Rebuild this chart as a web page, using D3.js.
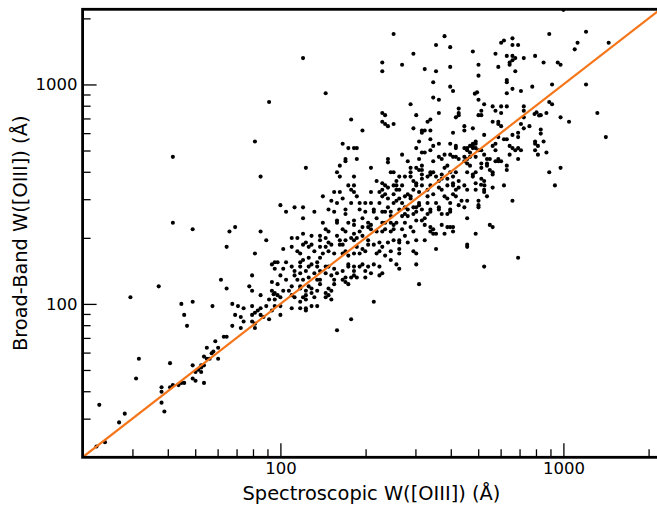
<!DOCTYPE html>
<html>
<head>
<meta charset="utf-8">
<script src="https://cdn.jsdelivr.net/npm/d3@7"></script>
<style>
  body { margin: 0; background: #fff; }
  svg { display: block; font-family: "DejaVu Sans", sans-serif; }
  .axis path.domain { display: none; }
  .axis line { stroke: #000; stroke-width: 1.3; }
  .axis text { font-size: 16.5px; fill: #000; font-family: "DejaVu Sans", sans-serif; }
  .label { font-size: 19.4px; fill: #000; }
</style>
</head>
<body>
<div id="chart"></div>
<script>
// values are log10 of the widths in Angstrom: [spectroscopic, broad-band]
var ptsLow = [[1.65,2.00],[1.69,2.01],[1.76,1.99],[1.66,1.95],[1.67,1.90],[1.36,1.54],[1.50,1.75],[1.49,1.66],
  [1.45,1.50],[1.43,1.46],[1.38,1.37],[1.35,1.35],[1.61,1.73],[1.58,1.62],[1.58,1.60],[1.58,1.55],[1.59,1.51],
  [1.61,1.62],[1.62,1.63],[1.64,1.63],[1.65,1.64],[1.66,1.64],[1.69,1.72],[1.69,1.66],[1.70,1.65],[1.70,1.69],
  [1.71,1.70],[1.72,1.72],[1.72,1.69],[1.72,1.71],[1.73,1.72],[1.73,1.64],[1.73,1.76],[1.74,1.80],[1.74,1.75],
  [1.75,1.75],[1.757,1.775],[1.763,1.783],[1.77,1.83],[1.78,1.75],[1.78,1.80],[1.80,1.85],[1.81,1.85],
  [1.47,2.03],[1.57,2.08]];

var ptsUpperLeft = [[1.96,2.92],[1.91,2.74],[1.62,2.67],[1.93,2.58],[1.62,2.37],[1.69,2.34],[1.82,2.33],[1.84,2.35],
  [1.93,2.33],[1.95,2.29],[1.81,2.26],[1.91,2.23],[1.97,2.18],[1.98,2.19],[1.98,2.16],[1.99,2.19],[1.90,2.13],
  [1.79,2.11],[1.97,2.10],[1.99,2.09],[1.81,2.07],[1.89,2.08],[1.90,2.06],[1.97,2.06],[1.98,2.05],[1.99,2.04],
  [1.976,2.044],[1.93,2.04],[1.98,2.02]];

var ptsTop = [[2.40,3.23],[2.58,3.22],[2.55,3.18],[2.60,3.17],[2.47,3.14],[2.08,3.12],[2.36,3.10],[2.36,3.06],
  [2.43,3.09],[2.51,3.07],[2.55,3.06],[2.60,3.08],[2.54,3.01],[2.60,2.99],[2.61,2.97],[2.16,2.96],[2.54,2.94],
  [2.56,2.93],[2.46,2.91],[2.63,2.89],[2.36,2.87],[2.37,2.86],[2.48,2.86],[2.56,2.87],[2.63,2.86],[2.62,2.85],
  [2.25,2.84],[2.36,2.83],[2.37,2.82],[2.38,2.81],[2.40,2.82],[2.52,2.83],[2.53,2.84],[2.29,2.79],[2.47,2.80],
  [2.50,2.78],[2.50,2.79],[2.51,2.79],[2.53,2.79],[2.61,2.78],[2.22,2.73],[2.24,2.71],[2.26,2.71],[2.27,2.71],
  [2.49,2.74],[2.53,2.75],[2.54,2.72],[2.56,2.73],[2.60,2.73],[2.62,2.71],[2.62,2.72],[2.48,2.71],[2.63,2.87]];

var ptsTopRight = [[3.00,3.34],[2.95,3.23],[3.08,3.24],[3.05,3.19],[3.04,3.16],[3.16,3.19],[2.93,3.10],[2.98,3.10],
  [2.99,3.09],[2.96,3.00],[3.08,3.00],[2.95,2.92],[2.96,2.91],[2.94,2.87],[2.92,2.86],[2.99,2.85],[3.02,2.83],
  [3.12,2.87],[2.92,2.795],[2.92,2.776],[2.93,2.74],[2.94,2.69],[3.15,2.76],[2.99,2.62]];

var ptsUpper = [[2.82,3.21],[2.79,3.20],[2.78,3.19],[2.82,3.18],[2.84,3.18],[2.68,3.15],[2.76,3.14],[2.80,3.13],
  [2.82,3.13],[2.83,3.12],[2.82,3.11],[2.86,3.12],[2.90,3.13],[2.70,3.09],[2.77,3.08],[2.81,3.09],[2.81,3.10],
  [2.83,3.06],[2.70,3.04],[2.80,3.02],[2.80,3.01],[2.89,2.99],[2.82,2.98],[2.85,2.97],[2.80,2.96],[2.687,2.958],
  [2.695,2.964],[2.70,2.93],[2.72,2.91],[2.75,2.90],[2.76,2.88],[2.78,2.90],[2.80,2.90],[2.86,2.90],[2.71,2.88],
  [2.70,2.86],[2.71,2.86],[2.78,2.87],[2.86,2.88],[2.905,2.873],[2.914,2.859],[2.898,2.865],[2.86,2.85],
  [2.75,2.83],[2.77,2.83],[2.77,2.82],[2.78,2.81],[2.85,2.82],[2.88,2.81],[2.65,2.81],[2.65,2.79],[2.68,2.80],
  [2.86,2.80],[2.72,2.77],[2.84,2.78],[2.82,2.77],[2.79,2.75],[2.80,2.75],[2.77,2.76],[2.84,2.76],[2.90,2.74],
  [2.90,2.73],[2.67,2.72],[2.68,2.73],[2.69,2.73],[2.68,2.71],[2.69,2.71],[2.66,2.71],[2.68,2.72],[2.75,2.72],
  [2.76,2.73],[2.81,2.72],[2.82,2.71],[2.83,2.70],[2.84,2.71],[2.71,2.70],[2.66,2.70],[2.65,2.71],[2.76,2.70],
  [2.90,2.70],[2.91,2.72],[2.85,2.70],[2.72,2.68],[2.73,2.66],[2.74,2.66],[2.81,2.68],[2.91,2.68],[2.65,2.67],
  [2.66,2.66],[2.67,2.67],[2.65,2.65],[2.63,2.66],[2.76,2.65],[2.77,2.65],[2.77,2.66],[2.78,2.65],[2.84,2.66],
  [2.66,2.64],[2.71,2.64],[2.73,2.64],[2.73,2.63],[2.80,2.63],[2.71,2.62],[2.74,2.61],[2.75,2.60],[2.75,2.59],
  [2.80,2.61],[2.68,2.59],[2.68,2.58],[2.95,2.60],[2.71,2.57]];

var ptsMidUpper = [[2.50,2.69],[2.51,2.69],[2.53,2.70],[2.69,2.74],[2.43,2.68],[2.56,2.67],[2.58,2.68],[2.60,2.68],
  [2.61,2.67],[2.62,2.67],[2.54,2.65],[2.57,2.66],[2.38,2.66],[2.38,2.645],[2.49,2.66],[2.67,2.69],[2.69,2.67],
  [2.70,2.70],[2.45,2.65],[2.50,2.63],[2.48,2.62],[2.49,2.61],[2.50,2.61],[2.50,2.59],[2.46,2.62],[2.46,2.60],
  [2.53,2.60],[2.54,2.60],[2.55,2.58],[2.59,2.63],[2.58,2.62],[2.60,2.60],[2.62,2.60],[2.67,2.63],[2.66,2.60],
  [2.69,2.60],[2.69,2.55],[2.40,2.60],[2.42,2.58],[2.43,2.54],[2.41,2.54],[2.42,2.52],[2.44,2.58],[2.47,2.56],
  [2.48,2.55],[2.48,2.54],[2.47,2.52],[2.50,2.57],[2.52,2.58],[2.50,2.54],[2.56,2.56],[2.57,2.57],[2.59,2.57],
  [2.61,2.55],[2.61,2.54],[2.62,2.52],[2.63,2.56],[2.65,2.54],[2.66,2.52],[2.37,2.54],[2.36,2.52],[2.36,2.49],
  [2.41,2.52],[2.40,2.50],[2.45,2.50],[2.46,2.49],[2.46,2.48],[2.49,2.51],[2.52,2.52],[2.54,2.50],[2.57,2.52],
  [2.58,2.49],[2.52,2.46],[2.53,2.43],[2.52,2.41],[2.60,2.46],[2.59,2.48],[2.60,2.43],[2.62,2.49],[2.64,2.47],
  [2.69,2.52],[2.70,2.47],[2.42,2.48],[2.40,2.46],[2.38,2.44],[2.36,2.42],[2.44,2.44],[2.45,2.43],[2.43,2.40],
  [2.44,2.37],[2.47,2.41],[2.48,2.44],[2.49,2.45],[2.56,2.43],[2.57,2.41],[2.59,2.41],[2.39,2.37],[2.40,2.36],
  [2.37,2.37],[2.51,2.36],[2.57,2.36],[2.59,2.35],[2.60,2.35],[2.66,2.39],[2.65,2.44],[2.46,2.35]];

var ptsCore = [[2.23,2.66],[2.23,2.65],[2.27,2.66],[2.09,2.62],[2.21,2.63],[2.32,2.62],[2.20,2.60],[2.21,2.58],
  [2.26,2.58],[2.39,2.60],[2.34,2.56],[2.36,2.55],[2.41,2.56],[2.40,2.54],[2.24,2.54],[2.26,2.54],[2.25,2.52],
  [2.26,2.51],[2.38,2.53],[2.19,2.51],[2.21,2.51],[2.32,2.51],[2.35,2.51],[2.37,2.50],[2.15,2.49],[2.22,2.48],
  [2.27,2.49],[2.18,2.47],[2.20,2.46],[2.41,2.47],[2.38,2.48],[2.25,2.46],[2.28,2.46],[2.30,2.46],[2.32,2.46],
  [2.35,2.46],[2.08,2.44],[2.12,2.42],[2.17,2.43],[2.19,2.42],[2.23,2.43],[2.23,2.41],[2.28,2.43],[2.30,2.42],
  [2.33,2.43],[2.33,2.42],[2.37,2.42],[2.39,2.42],[2.08,2.39],[2.24,2.37],[2.26,2.38],[2.26,2.36],[2.15,2.37],
  [2.20,2.38],[2.20,2.37],[2.29,2.39],[2.31,2.37],[2.32,2.36],[2.31,2.35],[2.34,2.39],[2.36,2.37],[2.39,2.40],
  [2.41,2.37],[2.29,2.35],[2.28,2.33],[2.22,2.34],[2.23,2.33],[2.16,2.34],[2.17,2.33],[2.16,2.30],[2.08,2.32],
  [2.08,2.27],[2.32,2.34],[2.34,2.33],[2.36,2.33],[2.37,2.34],[2.39,2.33],[2.40,2.34],[2.25,2.30],[2.26,2.32],
  [2.27,2.30],[2.26,2.29],[2.29,2.31],[2.20,2.31],[2.21,2.29],[2.21,2.27],[2.22,2.27],[2.23,2.29],[2.14,2.31],
  [2.14,2.29],[2.17,2.28],[2.18,2.27],[2.16,2.26],[2.14,2.26],[2.09,2.28],[2.10,2.26],[2.11,2.27],[2.12,2.24],
  [2.31,2.29],[2.31,2.27],[2.33,2.27],[2.35,2.28],[2.36,2.26],[2.38,2.28],[2.40,2.29],[2.42,2.29],[2.27,2.26],
  [2.29,2.25],[2.30,2.24],[2.28,2.23],[2.23,2.24],[2.24,2.22],[2.26,2.23],[2.22,2.23],[2.17,2.24],[2.19,2.23],
  [2.15,2.23],[2.14,2.21],[2.35,2.24],[2.34,2.23],[2.37,2.22],[2.39,2.24],[2.42,2.23],[2.08,2.20],[2.10,2.21],
  [2.11,2.18],[2.13,2.19],[2.10,2.17],[2.13,2.17],[2.14,2.15],[2.12,2.14],[2.09,2.15],[2.07,2.14],[2.16,2.17],
  [2.17,2.17],[2.19,2.16],[2.20,2.14],[2.22,2.15],[2.16,2.14],[2.18,2.13],[2.24,2.18],[2.26,2.17],[2.28,2.17],
  [2.26,2.15],[2.27,2.12],[2.31,2.17],[2.33,2.18],[2.35,2.17],[2.30,2.15],[2.32,2.14],[2.36,2.14],[2.39,2.20],
  [2.41,2.18],[2.22,2.11],[2.25,2.12],[2.19,2.11],[2.08,2.11]];

var ptsLowCore = [[2.00,2.45],[2.02,2.42],[2.05,2.44],[2.04,2.30],[2.06,2.30],[2.11,2.31],[2.01,2.25],[2.04,2.26],
  [2.06,2.24],[2.07,2.23],[2.02,2.19],[2.04,2.17],[2.07,2.19],[2.01,2.16],[2.05,2.15],[2.07,2.17],[2.00,2.13],
  [2.02,2.11],[2.05,2.13],[2.06,2.11],[2.10,2.12],[2.01,2.06],[2.03,2.06],[2.04,2.08],[2.07,2.07],[2.09,2.06],
  [2.11,2.07],[2.13,2.06],[1.96,2.02],[2.00,2.03],[2.04,2.04],[2.05,2.03],[2.08,2.03],[2.09,2.02],[2.12,2.03],
  [1.83,2.00],[1.85,1.99],[1.87,1.98],[1.90,1.99],[1.92,1.97],[1.93,1.98],[1.95,1.99],[1.97,1.97],[1.98,1.99],
  [2.00,1.99],[2.00,1.95],[2.04,1.98],[2.07,1.98],[2.09,1.98],[2.11,1.99],[2.13,1.99],[1.84,1.95],[1.86,1.94],
  [1.87,1.92],[1.90,1.95],[1.91,1.96],[1.93,1.95],[1.94,1.94],[1.96,1.93],[1.90,1.92],[1.91,1.91],[1.83,1.90],
  [1.86,1.89],[1.91,1.89]];

var ptsLowerRight = [[2.97,2.54],[2.79,2.54],[2.75,2.53],[2.82,2.47],[2.73,2.49],[2.72,2.51],[2.72,2.52],
  [2.709,2.543],[2.721,2.540],[2.66,2.47],[2.70,2.45],[2.70,2.44],[2.63,2.45],[2.74,2.36],[2.75,2.35],[2.69,2.32],
  [2.66,2.27],[2.66,2.26],[2.61,2.35],[2.61,2.33],[2.58,2.32],[2.55,2.25],[2.84,2.21],[2.72,2.17],[2.51,2.29],
  [2.54,2.32],[2.55,2.32],[2.53,2.35],[2.54,2.34],[2.53,2.33],[2.47,2.24],[2.48,2.23],[2.48,2.18],[2.42,2.16],
  [2.49,2.09],[2.45,2.28],[2.48,2.29],[2.44,2.31],[2.43,2.34],[2.47,2.33],[2.42,2.28],[2.42,2.25],[2.50,2.38],
  [2.48,2.38],[2.51,2.39],[2.56,2.44],[2.60,2.42],[2.55,2.46],[2.53,2.42],[2.49,2.46],[2.50,2.43],[2.48,2.42],
  [2.47,2.44],[2.44,2.41],[2.45,2.40],[2.43,2.46],[2.42,2.43],[2.57,2.59],[2.61,2.58],[2.59,2.54],[2.61,2.50],
  [2.63,2.53],[2.72,2.56],[2.56,2.53],[2.53,2.54],[2.52,2.49],[2.44,2.49],[2.46,2.58],[2.53,2.59],
  [2.35,2.13],[2.33,2.01],[2.25,1.93],[2.20,1.88],[2.30,2.12],[2.29,2.18],[2.24,2.17],[2.23,2.12],[2.26,2.13],
  [2.23,2.10],[2.24,2.09],[2.19,2.09],[2.17,2.07],[2.18,2.06],[2.16,2.05],[2.17,2.04],[2.18,2.02],[2.16,2.03],
  [2.11,2.05],[2.09,2.04],[2.10,2.08],[2.07,2.01],[2.09,1.97],[2.14,2.11],[2.14,2.09],[2.13,2.11],[2.07,2.08]];

var oneToOne = [20, 2200];
var majorTicks = [100, 1000];
var minorTicks = [30, 40, 50, 60, 70, 80, 90, 200, 300, 400, 500, 600, 700, 800, 900, 2000];

window.onload = function(){
  makeScatter();
};

function makeScatter(){
  var outerWidth = 657,
      outerHeight = 508,
      plot = {left: 82.6, right: 660.3, top: 9.3, bottom: 457.3};

  var points = [].concat(ptsLow, ptsUpperLeft, ptsTop, ptsTopRight, ptsUpper,
      ptsMidUpper, ptsCore, ptsLowCore, ptsLowerRight);

  var x = d3.scaleLog()
      .domain([20, 2200])
      .range([plot.left, plot.right]);

  var y = d3.scaleLog()
      .domain([20, 2200])
      .range([plot.bottom, plot.top]);

  var svg = d3.select("#chart").append("svg")
      .attr("width", outerWidth)
      .attr("height", outerHeight);

  svg.append("rect")
      .attr("width", outerWidth)
      .attr("height", outerHeight)
      .attr("fill", "#fff");

  svg.append("defs").append("clipPath")
      .attr("id", "plot-clip")
    .append("rect")
      .attr("x", plot.left)
      .attr("y", plot.top)
      .attr("width", plot.right - plot.left)
      .attr("height", plot.bottom - plot.top);

  // minor ticks first, then majors with labels
  svg.append("g")
      .attr("class", "axis")
      .attr("transform", "translate(0," + plot.bottom + ")")
      .call(d3.axisBottom(x).tickValues(minorTicks).tickSizeInner(-8).tickSizeOuter(0).tickFormat(""));

  svg.append("g")
      .attr("class", "axis")
      .attr("transform", "translate(0," + plot.bottom + ")")
      .call(d3.axisBottom(x).tickValues(majorTicks).tickSizeInner(-14).tickSizeOuter(0)
        .tickPadding(5).tickFormat(d3.format("d")));

  svg.append("g")
      .attr("class", "axis")
      .attr("transform", "translate(" + plot.left + ",0)")
      .call(d3.axisLeft(y).tickValues(minorTicks).tickSizeInner(-8).tickSizeOuter(0).tickFormat(""));

  svg.append("g")
      .attr("class", "axis")
      .attr("transform", "translate(" + plot.left + ",0)")
      .call(d3.axisLeft(y).tickValues(majorTicks).tickSizeInner(-14).tickSizeOuter(0)
        .tickPadding(5).tickFormat(d3.format("d")));

  var g = svg.append("g")
      .attr("clip-path", "url(#plot-clip)");

  g.selectAll("circle")
      .data(points)
    .enter().append("circle")
      .attr("cx", function(d){ return x(Math.pow(10, d[0])); })
      .attr("cy", function(d){ return y(Math.pow(10, d[1])); })
      .attr("r", 2.05)
      .attr("fill", "#000");

  g.append("line")
      .attr("x1", x(oneToOne[0]))
      .attr("y1", y(oneToOne[0]))
      .attr("x2", x(oneToOne[1]))
      .attr("y2", y(oneToOne[1]))
      .attr("stroke", "#f5761a")
      .attr("stroke-width", 2.2);

  svg.append("rect")
      .attr("x", plot.left)
      .attr("y", plot.top)
      .attr("width", plot.right - plot.left)
      .attr("height", plot.bottom - plot.top)
      .attr("fill", "none")
      .attr("stroke", "#000")
      .attr("stroke-width", 2.8);

  svg.append("text")
      .attr("class", "label")
      .attr("x", (plot.left + plot.right) / 2)
      .attr("y", 500)
      .attr("text-anchor", "middle")
      .text("Spectroscopic W([OIII]) (Å)");

  svg.append("text")
      .attr("class", "label")
      .attr("transform", "translate(20," + (plot.top + plot.bottom) / 2 + ") rotate(-90)")
      .attr("text-anchor", "middle")
      .attr("dy", "0.35em")
      .text("Broad-Band W([OIII]) (Å)");
}
</script>
</body>
</html>
